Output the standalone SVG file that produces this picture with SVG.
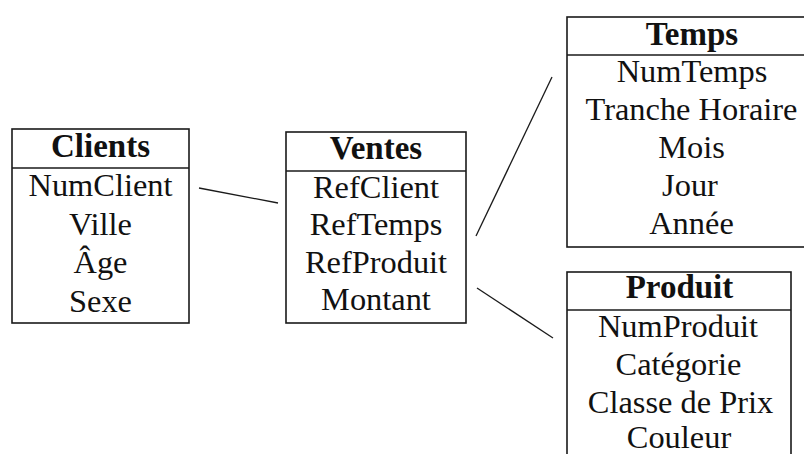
<svg xmlns="http://www.w3.org/2000/svg" width="804" height="454" viewBox="0 0 804 454">
  <style>
    .box { fill: #ffffff; stroke: #1a1a1a; stroke-width: 1.6; }
    .sep { stroke: #1a1a1a; stroke-width: 1.6; }
    .link { stroke: #1a1a1a; stroke-width: 1.3; fill: none; }
    .title { font-family: "Liberation Serif", "Times New Roman", serif; font-size: 33px; font-weight: bold; fill: #111; text-anchor: middle; }
    .attr { font-family: "Liberation Serif", "Times New Roman", serif; font-size: 32.4px; fill: #111; text-anchor: middle; }
  </style>
  <rect x="0" y="0" width="804" height="454" fill="#ffffff"/>

  <!-- connectors between the fact table and its dimensions -->
  <g id="connectors">
    <line class="link" x1="199" y1="188" x2="278" y2="203"/>
    <line class="link" x1="476" y1="236" x2="552" y2="77"/>
    <line class="link" x1="477" y1="288" x2="553" y2="338"/>
  </g>

  <g id="clients">
    <rect class="box" x="12" y="129" width="177" height="194"/>
    <line class="sep" x1="12" y1="168" x2="189" y2="168"/>
    <text class="title" x="100.5" y="157">Clients</text>
    <text class="attr" x="100.5" y="196">NumClient</text>
    <text class="attr" x="100.5" y="234.5">Ville</text>
    <text class="attr" x="100.5" y="273">Âge</text>
    <text class="attr" x="100.5" y="311.5">Sexe</text>
  </g>

  <g id="ventes">
    <rect class="box" x="286" y="132" width="180" height="191"/>
    <line class="sep" x1="286" y1="171" x2="466" y2="171"/>
    <text class="title" x="376" y="159">Ventes</text>
    <text class="attr" x="376" y="197.5">RefClient</text>
    <text class="attr" x="376" y="235">RefTemps</text>
    <text class="attr" x="376" y="272.5">RefProduit</text>
    <text class="attr" x="376" y="310">Montant</text>
  </g>

  <g id="temps">
    <rect class="box" x="567" y="17" width="248" height="230"/>
    <line class="sep" x1="567" y1="55" x2="815" y2="55"/>
    <text class="title" x="692" y="45">Temps</text>
    <text class="attr" x="692" y="82">NumTemps</text>
    <text class="attr" x="691.5" y="120">Tranche Horaire</text>
    <text class="attr" x="691.5" y="158">Mois</text>
    <text class="attr" x="690" y="196">Jour</text>
    <text class="attr" x="691.5" y="234">Année</text>
  </g>

  <g id="produit">
    <rect class="box" x="567" y="272" width="224" height="200"/>
    <line class="sep" x1="567" y1="310" x2="791" y2="310"/>
    <text class="title" x="679.5" y="298">Produit</text>
    <text class="attr" x="678" y="337">NumProduit</text>
    <text class="attr" x="678.5" y="375">Catégorie</text>
    <text class="attr" x="680.5" y="412.5">Classe de Prix</text>
    <text class="attr" x="679" y="448">Couleur</text>
  </g>
</svg>
